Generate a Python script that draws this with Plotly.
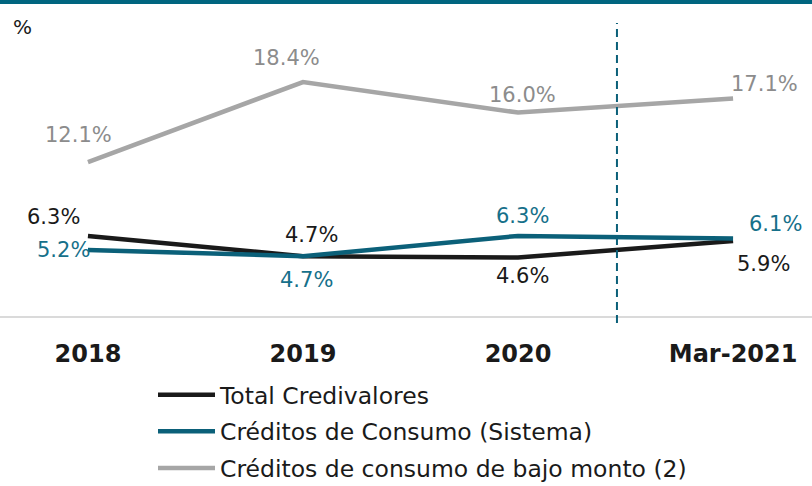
import plotly.graph_objects as go

categories = ["2018", "2019", "2020", "Mar-2021"]
total_credivalores = [6.3, 4.7, 4.6, 5.9]
consumo_sistema = [5.2, 4.7, 6.3, 6.1]
consumo_bajo_monto = [12.1, 18.4, 16.0, 17.1]
series_names = ["Total Credivalores", "Créditos de Consumo (Sistema)",
                "Créditos de consumo de bajo monto (2)"]

BLACK = "#1A1A1A"
TEAL = "#0B6079"
TEAL_TXT = "#16708A"
GRAY = "#A6A6A6"
GRAY_TXT = "#8C8C8C"
FONT = "DejaVu Sans"

fig = go.Figure()
fig.add_trace(go.Scatter(x=categories, y=consumo_bajo_monto, mode="lines",
                         name=series_names[2], legendrank=3, legendgroup="c",
                         line=dict(color=GRAY, width=4.5)))
fig.add_trace(go.Scatter(x=categories, y=total_credivalores, mode="lines",
                         name=series_names[0], legendrank=1, legendgroup="a",
                         line=dict(color=BLACK, width=4.5)))
fig.add_trace(go.Scatter(x=categories, y=consumo_sistema, mode="lines",
                         name=series_names[1], legendrank=2, legendgroup="b",
                         line=dict(color=TEAL, width=4.5)))

# label offsets (px) relative to each data point
gray_off = [(-9, 27), (-16, 24), (4, 18), (31, 15)]
black_off = [(-34, 19), (9, 21), (4, -18), (30, -23)]
teal_off = [(-24, 0), (4, -24), (4, 20), (42, 14)]

annotations = []
for vals, offs, col in [(consumo_bajo_monto, gray_off, GRAY_TXT),
                        (total_credivalores, black_off, BLACK),
                        (consumo_sistema, teal_off, TEAL_TXT)]:
    for i, (v, (dx, dy)) in enumerate(zip(vals, offs)):
        annotations.append(dict(x=i, y=v, xref="x", yref="y", text=f"{v:.1f}%",
                                showarrow=False, xshift=dx, yshift=dy,
                                xanchor="center", yanchor="middle",
                                font=dict(family=FONT, size=21, color=col)))
annotations.append(dict(x=22/812, y=(316-27)/316, xref="paper", yref="paper",
                        text="%", showarrow=False, xanchor="center", yanchor="middle",
                        font=dict(family=FONT, size=20, color=BLACK)))

shapes = [
    dict(type="rect", xref="paper", yref="paper", x0=0, x1=1, y0=1-4/316, y1=1,
         fillcolor="#00657F", line=dict(width=0), layer="above"),
    dict(type="line", xref="x", yref="paper", x0=2.46, x1=2.46,
         y0=-7/316, y1=(316-23)/316,
         line=dict(color=TEAL, width=2, dash="8px,5px")),
]

fig.update_layout(
    width=812, height=486,
    margin=dict(l=0, r=0, t=0, b=170, autoexpand=False),
    paper_bgcolor="white", plot_bgcolor="white",
    font=dict(family=FONT, color=BLACK),
    showlegend=True,
    legend=dict(orientation="v", xref="container", yref="container",
                x=153/812, xanchor="left", y=(486-373)/486, yanchor="top",
                font=dict(family=FONT, size=23.5, color=BLACK),
                tracegroupgap=3, itemwidth=57, bgcolor="rgba(0,0,0,0)"),
    xaxis=dict(type="category", categoryorder="array", categoryarray=categories,
               range=[-0.409, 3.367], showgrid=False, zeroline=False,
               showline=True, linecolor="#DADADA", linewidth=2,
               ticks="outside", ticklen=15, tickcolor="rgba(0,0,0,0)",
               tickfont=dict(family=FONT, size=24, color=BLACK, weight="bold")),
    yaxis=dict(range=[0, 24.85], visible=False),
    annotations=annotations,
    shapes=shapes,
)

fig.write_html("out.html", config={"displayModeBar": False},
               post_script="document.body.style.margin='0';")
